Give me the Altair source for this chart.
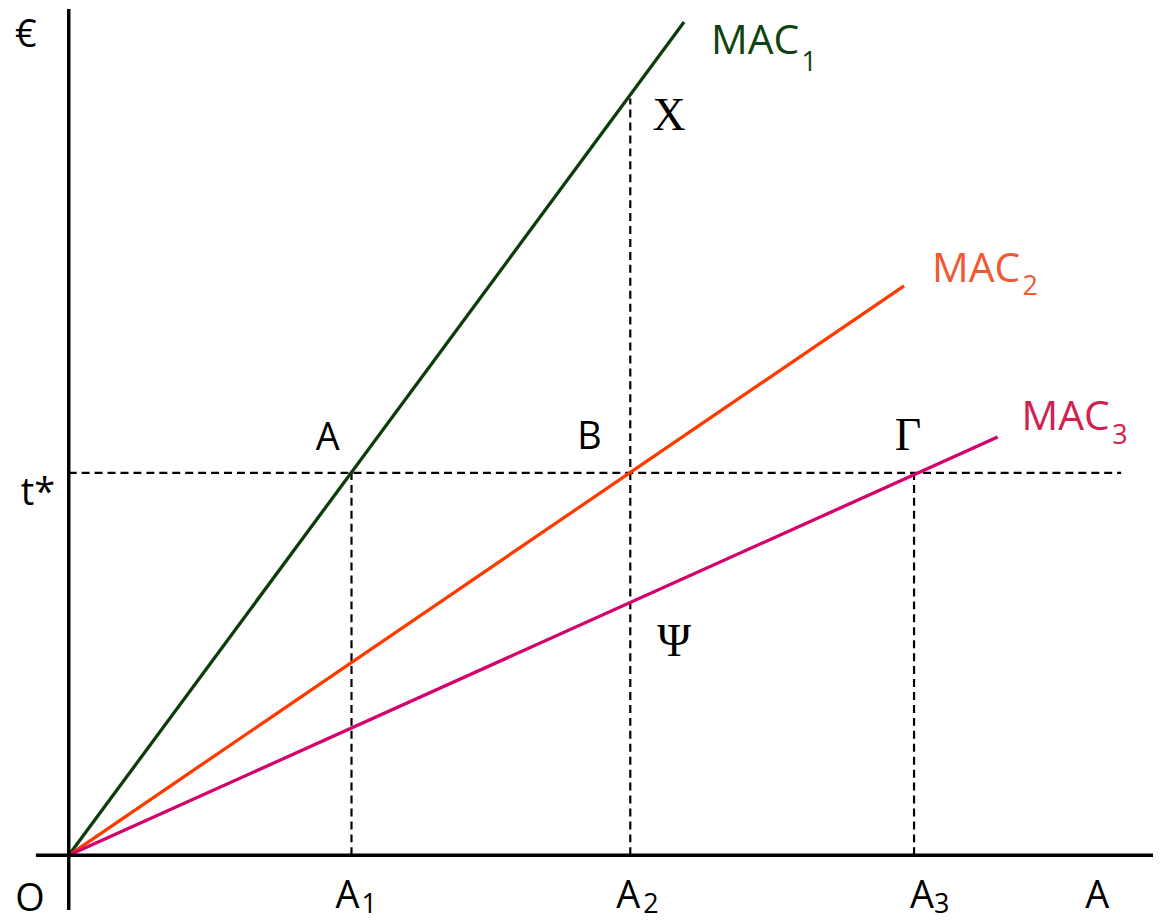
import altair as alt
import pandas as pd

# ---- data (model units) ----
series = ["MAC1", "MAC2", "MAC3"]
end_x = [6.18, 8.39, 9.33]
end_y = [8.37, 5.72, 4.20]
t_star = 3.84
a_levels = [2.84, 5.64, 8.49]
x_point_y = 7.60          # MAC1 value at A2 (point X)
t_line_end = 10.57

line_colors = ["#0b3d0b", "#ff3a00", "#d4006e"]
label_colors = ["#0f4312", "#ef5a34", "#d22050"]

W, H = 1150, 914
XDOM = [-0.61, 10.89]
YDOM = [-0.65, 8.49]

xs = alt.Scale(domain=XDOM, nice=False, zero=False)
ys = alt.Scale(domain=YDOM, nice=False, zero=False)

# lines
rows = []
for s, ex, ey in zip(series, end_x, end_y):
    rows.append({"s": s, "x": 0.0, "y": 0.0, "o": 0})
    rows.append({"s": s, "x": ex, "y": ey, "o": 1})
lines_df = pd.DataFrame(rows)

lines = alt.Chart(lines_df).mark_line(strokeWidth=3.3).encode(
    x=alt.X("x:Q", scale=xs, axis=None),
    y=alt.Y("y:Q", scale=ys, axis=None),
    color=alt.Color("s:N", scale=alt.Scale(domain=series, range=line_colors), legend=None),
    detail="s:N",
    order="o:Q",
)

# axes
axes_df = pd.DataFrame([
    {"x": 0.0, "x2": 0.0, "y": -0.55, "y2": 8.50},
    {"x": -0.33, "x2": 10.92, "y": 0.0, "y2": 0.0},
])
axes = alt.Chart(axes_df).mark_rule(strokeWidth=3.5, color="black").encode(
    x=alt.X("x:Q", scale=xs, axis=None), x2="x2:Q",
    y=alt.Y("y:Q", scale=ys, axis=None), y2="y2:Q",
)

# dashed guides
dash_df = pd.DataFrame([
    {"x": 0.0, "x2": t_line_end, "y": t_star, "y2": t_star},
    {"x": a_levels[0], "x2": a_levels[0], "y": 0.0, "y2": t_star},
    {"x": a_levels[1], "x2": a_levels[1], "y": 0.0, "y2": x_point_y},
    {"x": a_levels[2], "x2": a_levels[2], "y": 0.0, "y2": t_star},
])
dashes = alt.Chart(dash_df).mark_rule(strokeWidth=2.2, color="black", strokeDash=[8, 5]).encode(
    x=alt.X("x:Q", scale=xs, axis=None), x2="x2:Q",
    y=alt.Y("y:Q", scale=ys, axis=None), y2="y2:Q",
)

# sans labels (centered)
sans_text = ["€", "t*", "O", "A", "A", "B", "A", "A", "A"]
sans_x = [-0.43, -0.31, -0.39, 10.33, 2.60, 5.23, 2.80, 5.62, 8.57]
sans_y = [8.12, 3.52, -0.56, -0.53, 4.07, 4.08, -0.53, -0.53, -0.53]
sans_df = pd.DataFrame({"t": sans_text, "x": sans_x, "y": sans_y})
sans = alt.Chart(sans_df).mark_text(
    font="Open Sans", fontSize=38, align="center", baseline="alphabetic", color="black"
).encode(
    x=alt.X("x:Q", scale=xs, axis=None), y=alt.Y("y:Q", scale=ys, axis=None), text="t:N"
)

# subscripts on axis labels
sub_text = ["1", "2", "3"]
sub_x = [2.94, 5.77, 8.69]
sub_y = [-0.58, -0.58, -0.58]
sub_df = pd.DataFrame({"t": sub_text, "x": sub_x, "y": sub_y})
subs = alt.Chart(sub_df).mark_text(
    font="Open Sans", fontSize=27, align="left", baseline="alphabetic", color="black"
).encode(
    x=alt.X("x:Q", scale=xs, axis=None), y=alt.Y("y:Q", scale=ys, axis=None), text="t:N"
)

# serif labels
serif_text = ["X", "Ψ", "Γ"]
serif_x = [6.03, 6.08, 8.43]
serif_y = [7.28, 2.00, 4.07]
serif_df = pd.DataFrame({"t": serif_text, "x": serif_x, "y": serif_y})
serif = alt.Chart(serif_df).mark_text(
    font="Liberation Serif", fontSize=46, align="center", baseline="alphabetic", color="black"
).encode(
    x=alt.X("x:Q", scale=xs, axis=None), y=alt.Y("y:Q", scale=ys, axis=None), text="t:N"
)

# MAC labels
mac_x = [6.45, 8.67, 9.57]
mac_y = [8.05, 5.76, 4.27]
mac_sub_x = [7.36, 9.58, 10.48]
mac_sub_y = [7.88, 5.63, 4.13]
mac_df = pd.DataFrame({"s": series, "t": ["MAC"] * 3, "x": mac_x, "y": mac_y})
mac_sub_df = pd.DataFrame({"s": series, "t": ["1", "2", "3"], "x": mac_sub_x, "y": mac_sub_y})
lab_color = alt.Color("s:N", scale=alt.Scale(domain=series, range=label_colors), legend=None)
mac = alt.Chart(mac_df).mark_text(
    font="Open Sans", fontSize=41, align="left", baseline="alphabetic"
).encode(
    x=alt.X("x:Q", scale=xs, axis=None), y=alt.Y("y:Q", scale=ys, axis=None), text="t:N",
    color=lab_color,
)
mac_sub = alt.Chart(mac_sub_df).mark_text(
    font="Open Sans", fontSize=27, align="left", baseline="alphabetic"
).encode(
    x=alt.X("x:Q", scale=xs, axis=None), y=alt.Y("y:Q", scale=ys, axis=None), text="t:N",
    color=lab_color,
)

chart = alt.layer(dashes, lines, axes, sans, subs, serif, mac, mac_sub).resolve_scale(
    color="independent"
).properties(
    width=W, height=H, autosize=alt.AutoSizeParams(type="none"), padding=0
).configure_view(stroke=None)

chart.save("out.html", embed_options={"renderer": "svg", "actions": False})
